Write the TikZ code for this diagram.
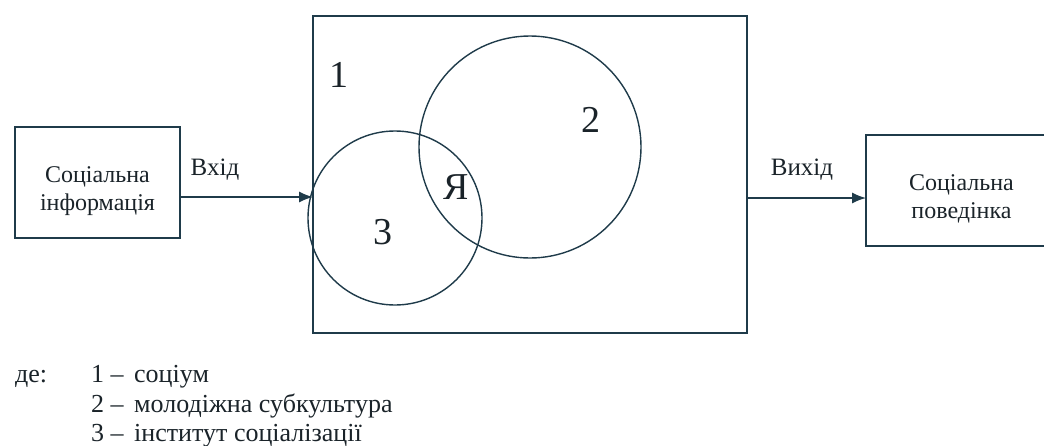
\documentclass[tikz,border=0pt]{standalone}
\usepackage{fontspec}
\setmainfont{Liberation Serif}
\newfontfamily\timesr{Liberation Serif}
\usetikzlibrary{arrows.meta,positioning}
\definecolor{ink}{HTML}{1F3B4A}
\definecolor{txt}{HTML}{1A2329}

\begin{document}
\begin{tikzpicture}[x=1pt,y=-1pt,>={Latex[length=14pt,width=11pt]},
  box/.style={draw=ink,line width=1.5pt,inner sep=0pt},
  boxtxt/.style={align=center,text=txt,inner sep=0pt,font=\timesr\fontsize{24}{28}\selectfont},
  ring/.style={draw=ink,line width=1.4pt,circle,inner sep=0pt},
  num/.style={text=txt,font=\timesr\fontsize{38}{40}\selectfont},
  tag/.style={text=txt,anchor=base,inner sep=0pt,font=\timesr\fontsize{25}{26}\selectfont},
  leg/.style={text=txt,anchor=base west,inner sep=0pt,font=\timesr\fontsize{26}{28}\selectfont}]
\useasboundingbox (0,0) rectangle (1044,445);
% boxes
\node[box,minimum width=165,minimum height=111] (info) at (97.5,182.5) {};
\node[boxtxt] (infotxt) at ([yshift=-9pt]info.center) {Соціальна\\інформація};
\node[box,minimum width=434,minimum height=317] (socium) at (530,174.5) {};
\node[box,minimum width=191,minimum height=111] (behav) at (961.5,190.5) {};
\node[boxtxt] (behavtxt) at ([yshift=-8pt]behav.center) {Соціальна\\поведінка};
% circles
\node[ring,minimum size=222] (youth) at (530,147) {};
\node[ring,minimum size=174] (inst) at (395,218) {};
\node[num] (one) at (339,75) {1};
\node[num] (two) at (591,120) {2};
\node[num] (three) at (383,232) {3};
\node[num] (me) at (456,187) {Я};
% arrows
\coordinate (inlet) at (313,197);
\coordinate (outlet) at (866,198);
\draw[ink,line width=1.4pt,->] (info.east |- inlet) -- (inlet);
\draw[ink,line width=1.4pt,->] (socium.east |- outlet) -- (outlet);
\node[tag] (vin) at (215,175) {Вхід};
\node[tag] (vout) at (802,175) {Вихід};
% legend
\node[leg] (where) at (15,382) {де:};
\foreach \i/\t/\y in {1/соціум/382,2/молодіжна субкультура/412,3/інститут соціалізації/441}{
  \node[leg] (n\i) at (91,\y) {\i\ –};
  \node[leg] (t\i) at (134,\y) {\t};
}
\end{tikzpicture}
\end{document}
